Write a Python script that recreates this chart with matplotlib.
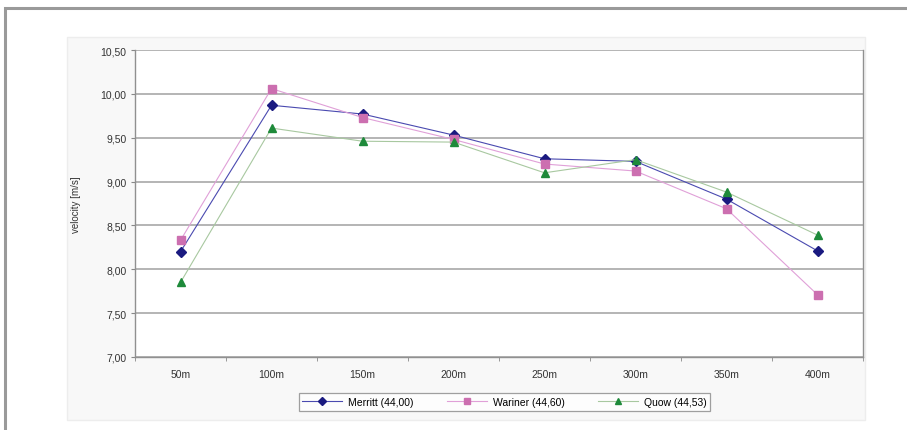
import matplotlib
matplotlib.use("Agg")
import matplotlib.pyplot as plt
from matplotlib.patches import Rectangle
import numpy as np

categories = ["50m", "100m", "150m", "200m", "250m", "300m", "350m", "400m"]
merritt = [8.20, 9.87, 9.77, 9.53, 9.26, 9.23, 8.80, 8.21]
wariner = [8.33, 10.06, 9.73, 9.48, 9.20, 9.12, 8.69, 7.71]
quow = [7.85, 9.61, 9.46, 9.45, 9.10, 9.25, 8.88, 8.39]
series_labels = ["Merritt (44,00)", "Wariner (44,60)", "Quow (44,53)"]
yticks = [7.0, 7.5, 8.0, 8.5, 9.0, 9.5, 10.0, 10.5]

plt.rcParams['font.family'] = ['Liberation Sans', 'DejaVu Sans']

W, H = 907, 431
fig = plt.figure(figsize=(W / 100, H / 100), dpi=100)
fig.patch.set_facecolor("white")

# outer frame
fig.patches.append(Rectangle((5 / W, -0.05), (W + 10) / W, 1.05 - 9 / H, transform=fig.transFigure,
                             fill=False, edgecolor="#9a9a9a", linewidth=2.2, zorder=-2))
# chart panel
fig.patches.append(Rectangle((67 / W, 1 - 421 / H), (865 - 67) / W, (421 - 38) / H,
                             transform=fig.transFigure, facecolor="#f8f8f8",
                             edgecolor="#ededed", linewidth=1, zorder=-1))

ax = fig.add_axes([135 / W, 1 - 358 / H, (863 - 135) / W, (358 - 51) / H])
ax.set_zorder(1)
ax.set_facecolor("white")
x = np.arange(len(categories))

ax.plot(x, merritt, color="#4a4ab0", linewidth=0.8, marker="D", markersize=5,
        markerfacecolor="#1a1a80", markeredgecolor="#1a1a80", label=series_labels[0], zorder=3)
ax.plot(x, wariner, color="#e0a0d8", linewidth=0.8, marker="s", markersize=5.5,
        markerfacecolor="#cc6fb0", markeredgecolor="#cc6fb0", label=series_labels[1], zorder=3)
ax.plot(x, quow, color="#a8c8a0", linewidth=0.8, marker="^", markersize=6,
        markerfacecolor="#1e8a3a", markeredgecolor="#1e8a3a", label=series_labels[2], zorder=3)

ax.set_xlim(-0.5, len(categories) - 0.5)
ax.set_ylim(7.0, 10.5)
ax.set_yticks(yticks)
ax.set_yticklabels([f"{v:.2f}".replace(".", ",") for v in yticks], fontsize=7.5, color="#333333")
ax.set_xticks(x)
ax.set_xticklabels(categories, fontsize=7.5, color="#333333")
ax.tick_params(axis="x", which="major", length=0, pad=9)
ax.set_xticks(np.arange(-0.5, len(categories)), minor=True)
ax.tick_params(axis="x", which="minor", length=3, color="#888888", direction="out")
ax.tick_params(axis="y", length=3, color="#888888", direction="out", pad=3)

ax.grid(axis="y", color="#a8a8a8", linewidth=1.2)
ax.set_axisbelow(True)
for s in ["left", "bottom", "right"]:
    ax.spines[s].set_color("#909090")
    ax.spines[s].set_linewidth(1.0)
ax.spines["top"].set_visible(False)

ax.set_ylabel("velocity [m/s]", fontsize=7, color="#333333", labelpad=14)

leg = fig.legend(loc="center", bbox_to_anchor=((298 + 711) / 2 / W, 1 - 403 / H), ncol=3,
                 fontsize=7.5, frameon=True, fancybox=False, edgecolor="#888888",
                 borderpad=0.35, handlelength=3.8, columnspacing=3.2, handletextpad=0.6,
                 markerscale=0.75)
leg.get_frame().set_linewidth(0.9)
leg.set_zorder(5)

fig.savefig("out.png", dpi=100)
